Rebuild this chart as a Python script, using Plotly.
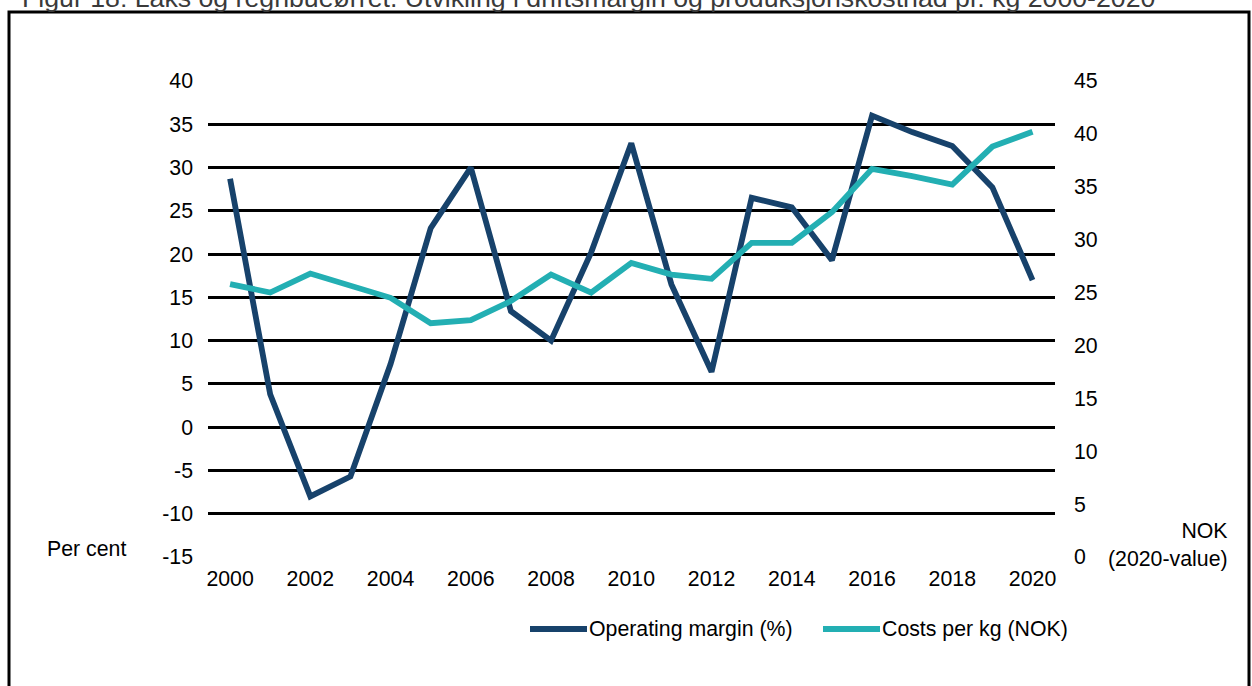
import plotly.graph_objects as go

years = list(range(2000, 2021))
operating_margin = [28.7, 3.8, -8.0, -5.7, 7.3, 23.0, 30.0, 13.4, 10.0, 20.2, 32.8,
                    16.5, 6.4, 26.5, 25.4, 19.3, 36.0, 34.1, 32.5, 27.7, 17.0]
costs_per_kg = [25.8, 25.0, 26.8, 25.7, 24.5, 22.1, 22.4, 24.2, 26.7, 25.0, 27.8,
                26.7, 26.3, 29.7, 29.7, 32.6, 36.7, 36.0, 35.2, 38.8, 40.2]
left_ticks = list(range(-15, 41, 5))
right_ticks = list(range(0, 46, 5))

NAVY = '#17426B'
TEAL = '#23AFB3'
FONT = 'Liberation Sans, Arial, sans-serif'
FS = 21.3

W, H = 1252, 686
L, R, T, B = 208, 197, 81, 129
PW, PH = W - L - R, H - T - B


def px(x):  # page pixel -> paper x
    return (x - L) / PW


def py(y):  # page pixel -> paper y
    return 1 - (y - T) / PH


fig = go.Figure()

fig.add_trace(go.Scatter(
    x=years, y=operating_margin, name='Operating margin (%)',
    mode='lines', line=dict(color=NAVY, width=5.8), yaxis='y'
))
fig.add_trace(go.Scatter(
    x=years, y=costs_per_kg, name='Costs per kg (NOK)',
    mode='lines', line=dict(color=TEAL, width=5.8), yaxis='y2'
))

fig.update_layout(
    width=W, height=H,
    margin=dict(l=L, r=R, t=T, b=B, autoexpand=False),
    paper_bgcolor='white', plot_bgcolor='white',
    font=dict(family=FONT, size=FS, color='#000000'),
    showlegend=False,
    xaxis=dict(range=[1999.45, 2020.56], tickvals=years[::2], showgrid=False,
               zeroline=False, showline=False, ticks='', ticklabelstandoff=7),
    yaxis=dict(range=[-15, 40], tickvals=left_ticks, ticktext=[str(v) for v in left_ticks],
               showgrid=True, gridcolor='#000000', gridwidth=2.5, zeroline=False,
               showline=False, ticks='', ticklabelstandoff=14),
    yaxis2=dict(range=[0, 45], tickvals=right_ticks, overlaying='y', side='right',
                showgrid=False, zeroline=False, showline=False, ticks='',
                ticklabelstandoff=18),
)

# axis unit labels
fig.add_annotation(x=px(128), y=py(549), xref='paper', yref='paper', text='Per cent',
                   showarrow=False, xanchor='right', yanchor='middle')
fig.add_annotation(x=px(1230), y=py(545), xref='paper', yref='paper',
                   text='NOK<br>(2020-value)', showarrow=False, xanchor='right',
                   yanchor='middle', align='right')

# legend drawn by hand
for x0, name, col in [(530, 'Operating margin (%)', NAVY), (823, 'Costs per kg (NOK)', TEAL)]:
    fig.add_shape(type='line', xref='paper', yref='paper', x0=px(x0), x1=px(x0 + 57),
                  y0=py(629), y1=py(629), line=dict(color=col, width=6))
    fig.add_annotation(x=px(x0 + 57), y=py(629), xref='paper', yref='paper', text=name,
                       showarrow=False, xanchor='left', yanchor='middle')

# frame around the figure
fig.add_shape(type='rect', xref='paper', yref='paper', x0=px(9), x1=px(1249),
              y0=py(700), y1=py(12), line=dict(color='#000000', width=3), layer='below')

# title, cut by the top of the page
fig.add_annotation(x=px(20), y=py(15), xref='paper', yref='paper',
                   text='Figur 18: Laks og regnbueørret. Utvikling i driftsmargin og produksjonskostnad pr. kg 2000-2020',
                   showarrow=False, xanchor='left', yanchor='bottom',
                   font=dict(size=26.7, color='#3a3a3a'))

fig.write_html('out.html', config={'displayModeBar': False},
               post_script="document.body.style.margin='0';")
